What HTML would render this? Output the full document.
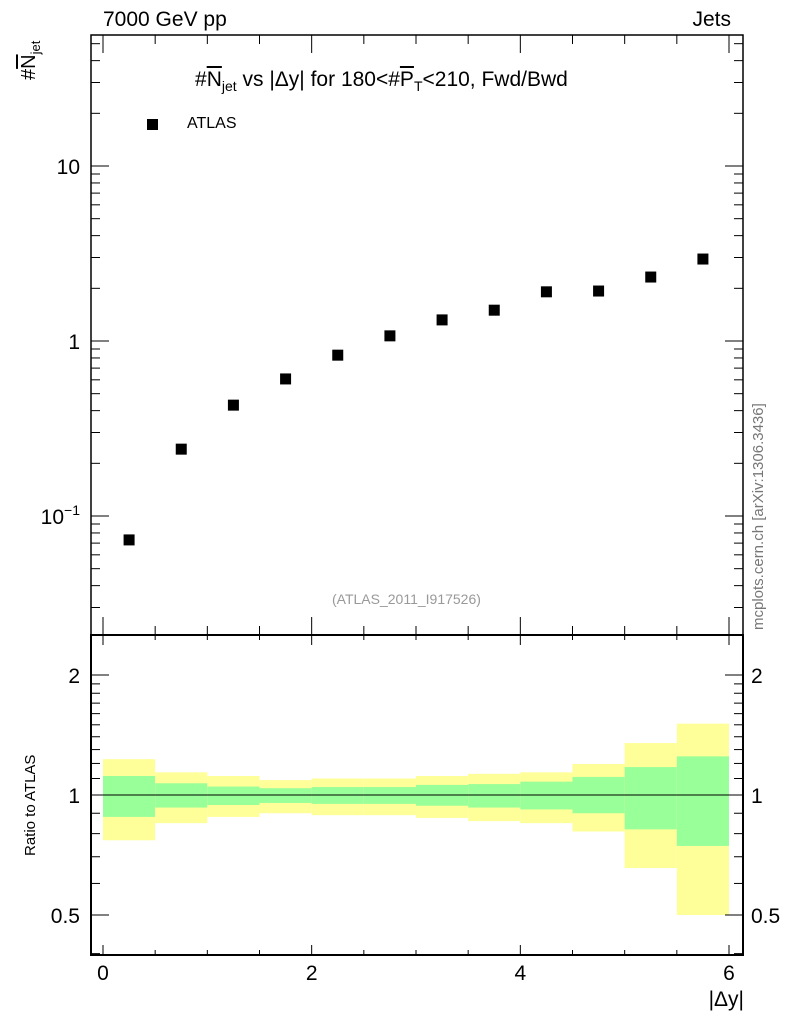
<!DOCTYPE html>
<html><head><meta charset="utf-8"><style>
html,body{margin:0;padding:0;background:#fff;}
svg{display:block;font-family:"Liberation Sans",sans-serif;}
</style></head><body>
<svg id="c" width="786" height="1024" viewBox="0 0 786 1024">
</svg>
<script>
const xCenters=[0.25,0.75,1.25,1.75,2.25,2.75,3.25,3.75,4.25,4.75,5.25,5.75];
const atlasValues=[0.073,0.241,0.43,0.607,0.83,1.07,1.32,1.50,1.91,1.93,2.32,2.94];
const binLow=[0,0.5,1,1.5,2,2.5,3,3.5,4,4.5,5,5.5];
const binHigh=[0.5,1,1.5,2,2.5,3,3.5,4,4.5,5,5.5,6];
const yellowHi=[1.23,1.14,1.116,1.09,1.10,1.10,1.116,1.13,1.14,1.196,1.35,1.51];
const yellowLo=[0.77,0.85,0.881,0.90,0.89,0.89,0.876,0.86,0.85,0.81,0.656,0.50];
const greenHi=[1.116,1.07,1.05,1.04,1.047,1.047,1.06,1.065,1.08,1.11,1.175,1.25];
const greenLo=[0.881,0.93,0.944,0.955,0.95,0.95,0.94,0.93,0.92,0.90,0.82,0.745];
const xTicks=[0,2,4,6];
const yTicks=[0.1,1,10];
const rTicks=[0.5,1,2];

const NS="http://www.w3.org/2000/svg";
const svg=document.getElementById('c');
function mk(t,a,p){const e=document.createElementNS(NS,t);for(const k in a)e.setAttribute(k,a[k]);(p||svg).appendChild(e);return e;}
const L=91,R=743,T=35,M=635,B=955;
const X=v=>103+v*(729-103)/6;
const Y=v=>341-Math.log10(v)*175;
const RY=v=>795-Math.log2(v)*120;

for(let i=0;i<binLow.length;i++){
 const y=mk('rect',{x:X(binLow[i]),y:RY(yellowHi[i]),width:X(binHigh[i])-X(binLow[i]),height:RY(yellowLo[i])-RY(yellowHi[i]),fill:'#ffff99'});
 
 
 const g=mk('rect',{x:X(binLow[i]),y:RY(greenHi[i]),width:X(binHigh[i])-X(binLow[i]),height:RY(greenLo[i])-RY(greenHi[i]),fill:'#99ff99'});
 
 
}
mk('line',{x1:L,x2:R,y1:RY(1),y2:RY(1),stroke:'#000','stroke-width':1});

const f1=mk('rect',{x:L,y:T,width:R-L,height:M-T,fill:'none',stroke:'#000','stroke-width':1.5});

const f2=mk('rect',{x:L,y:M,width:R-L,height:B-M,fill:'none',stroke:'#000','stroke-width':2});


for(let v=0;v<=6.01;v+=0.5){
 const maj=Math.abs(v-Math.round(v/2)*2)<1e-6;
 const len=maj?18:9;
 mk('line',{x1:X(v),x2:X(v),y1:M,y2:M-len,stroke:'#000'});
 mk('line',{x1:X(v),x2:X(v),y1:B,y2:B-(maj?10:5),stroke:'#000'});
 mk('line',{x1:X(v),x2:X(v),y1:T,y2:T+len,stroke:'#000'});
 mk('line',{x1:X(v),x2:X(v),y1:M,y2:M+(maj?10:5),stroke:'#000'});
}
xTicks.forEach(v=>{const t=mk('text',{x:X(v),y:980,'font-size':21,'text-anchor':'middle'});t.textContent=v;
 });

for(let d=-2;d<=1;d++){for(let m=1;m<10;m++){const v=m*Math.pow(10,d);const y=Y(v);if(y<T||y>M)continue;
 const len=m==1?18:9;
 mk('line',{x1:L,x2:L+len,y1:y,y2:y,stroke:'#000'});mk('line',{x1:R,x2:R-len,y1:y,y2:y,stroke:'#000'});}}
[[10,'10'],[1,'1']].forEach(([v,s])=>{const t=mk('text',{x:80,y:Y(v)+8,'font-size':21,'text-anchor':'end'});t.textContent=s;
 });
{const t=mk('text',{x:80,y:Y(0.1)+8,'font-size':21,'text-anchor':'end'});t.innerHTML='10<tspan dy="-9" font-size="14">−1</tspan>';
 }

for(let v=0.4;v<=2.5;v+=0.1){const y=RY(v);if(y<M||y>B)continue;
 const maj=rTicks.some(r=>Math.abs(r-v)<1e-6);const len=maj?18:9;
 if(v>2.05&&Math.abs(v*10%5)>0.01&&v>2.0)continue;
 mk('line',{x1:L,x2:L+len,y1:y,y2:y,stroke:'#000'});mk('line',{x1:R,x2:R-len,y1:y,y2:y,stroke:'#000'});}
rTicks.forEach(v=>{const s=String(v);
 const t=mk('text',{x:80,y:RY(v)+8,'font-size':21,'text-anchor':'end'});t.textContent=s;
 
 const t2=mk('text',{x:751,y:RY(v)+8,'font-size':21});t2.textContent=s;
 });

atlasValues.forEach((v,i)=>{const r=mk('rect',{x:X(xCenters[i])-5.5,y:Y(v)-5.5,width:11,height:11,fill:'#000'});
 });
</script>
<div style="position:absolute;left:0;top:0;width:786px;height:1024px;font-family:'Liberation Sans',sans-serif;pointer-events:none;">
 <div style="position:absolute;left:103px;top:8px;font-size:21px;">7000 GeV pp</div>
 <div style="position:absolute;right:55px;top:8px;font-size:21px;">Jets</div>
 <div style="position:absolute;left:195px;top:68px;font-size:21px;">#<span style="text-decoration:overline">N</span><sub style="font-size:14px">jet</sub> vs |Δy| for 180&lt;#<span style="text-decoration:overline">P</span><sub style="font-size:14px">T</sub>&lt;210, Fwd/Bwd</div>
 <div style="position:absolute;left:147px;top:119px;width:11px;height:11px;background:#000;"></div>
 <div style="position:absolute;left:187px;top:115px;font-size:16px;">ATLAS</div>
 <div style="position:absolute;left:332px;top:591px;font-size:14px;color:#999;">(ATLAS_2011_I917526)</div>
 <div style="position:absolute;right:42px;top:988px;font-size:21px;">|Δy|</div>
 <div style="position:absolute;left:18px;top:80px;transform:rotate(-90deg);transform-origin:0 0;font-size:20px;white-space:nowrap;">#<span style="text-decoration:overline">N</span><sub style="font-size:13px">jet</sub></div>
 <div style="position:absolute;left:22px;top:856px;transform:rotate(-90deg);transform-origin:0 0;font-size:15px;white-space:nowrap;">Ratio to ATLAS</div>
 <div style="position:absolute;left:750px;top:630px;transform:rotate(-90deg);transform-origin:0 0;font-size:15px;color:#777;white-space:nowrap;">mcplots.cern.ch [arXiv:1306.3436]</div>
</div>
</body></html>
